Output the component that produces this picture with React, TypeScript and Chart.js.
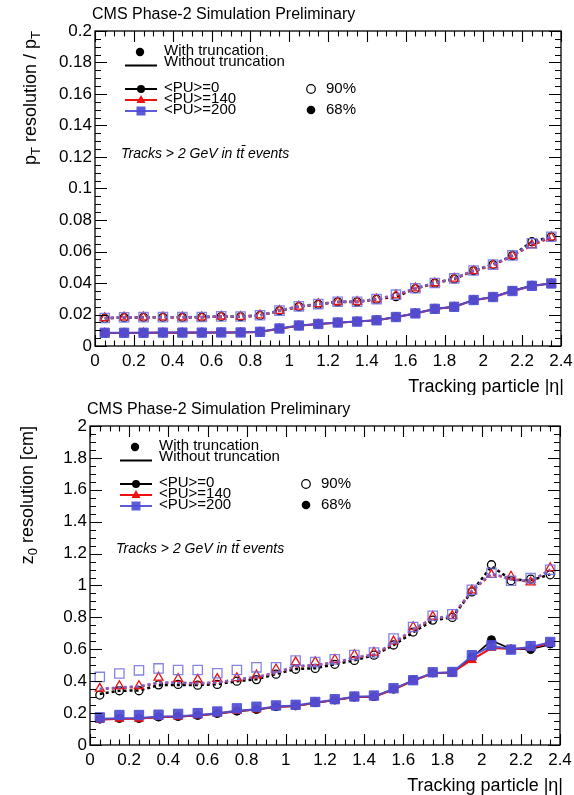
import React, { useEffect, useRef } from 'react';
import { Chart, registerables } from 'chart.js';

Chart.register(...registerables);

// ---------- data ----------
const etaBins = [0.05, 0.15, 0.25, 0.35, 0.45, 0.55, 0.65, 0.75, 0.85, 0.95, 1.05, 1.15, 1.25, 1.35, 1.45, 1.55, 1.65, 1.75, 1.85, 1.95, 2.05, 2.15, 2.25, 2.35];

const etaTickValues = [0, 0.2, 0.4, 0.6, 0.8, 1, 1.2, 1.4, 1.6, 1.8, 2, 2.2, 2.4];
const etaTickLabels = ['0', '0.2', '0.4', '0.6', '0.8', '1', '1.2', '1.4', '1.6', '1.8', '2', '2.2', '2.4'];

const ptTickValues = [0, 0.02, 0.04, 0.06, 0.08, 0.1, 0.12, 0.14, 0.16, 0.18, 0.2];
const ptTickLabels = ['0', '0.02', '0.04', '0.06', '0.08', '0.1', '0.12', '0.14', '0.16', '0.18', '0.2'];

const z0TickValues = [0, 0.2, 0.4, 0.6, 0.8, 1, 1.2, 1.4, 1.6, 1.8, 2];
const z0TickLabels = ['0', '0.2', '0.4', '0.6', '0.8', '1', '1.2', '1.4', '1.6', '1.8', '2'];

// pT resolution / pT, 68% (filled markers + solid lines)
const pt68PU0 = [0.0084, 0.0084, 0.0084, 0.0085, 0.0085, 0.0085, 0.0086, 0.0086, 0.0090, 0.0111, 0.0129, 0.0140, 0.0148, 0.0155, 0.0163, 0.0184, 0.0207, 0.0236, 0.0249, 0.0292, 0.0311, 0.0352, 0.0384, 0.0397];
const pt68PU140 = [0.0083, 0.0083, 0.0084, 0.0084, 0.0084, 0.0085, 0.0085, 0.0086, 0.0089, 0.0110, 0.0129, 0.0140, 0.0148, 0.0155, 0.0163, 0.0183, 0.0206, 0.0235, 0.0248, 0.0291, 0.0310, 0.0348, 0.0381, 0.0396];
const pt68PU200 = [0.0084, 0.0084, 0.0084, 0.0085, 0.0085, 0.0085, 0.0086, 0.0086, 0.0090, 0.0111, 0.0130, 0.0140, 0.0149, 0.0155, 0.0163, 0.0184, 0.0207, 0.0236, 0.0249, 0.0292, 0.0311, 0.0349, 0.0382, 0.0397];

// pT resolution / pT, 90% (open markers + dashed lines)
const pt90PU0 = [0.0176, 0.0181, 0.0182, 0.0182, 0.0182, 0.0183, 0.0187, 0.0186, 0.0194, 0.0224, 0.0250, 0.0265, 0.0280, 0.0280, 0.0297, 0.0313, 0.0364, 0.0399, 0.0426, 0.0478, 0.0517, 0.0574, 0.0662, 0.0693];
const pt90PU140 = [0.0177, 0.0182, 0.0182, 0.0183, 0.0182, 0.0183, 0.0188, 0.0186, 0.0195, 0.0224, 0.0251, 0.0266, 0.0280, 0.0281, 0.0297, 0.0322, 0.0366, 0.0399, 0.0428, 0.0476, 0.0513, 0.0572, 0.0641, 0.0690];
const pt90PU200 = [0.0178, 0.0182, 0.0183, 0.0183, 0.0183, 0.0184, 0.0188, 0.0187, 0.0195, 0.0225, 0.0252, 0.0266, 0.0281, 0.0281, 0.0298, 0.0326, 0.0367, 0.0400, 0.0429, 0.0479, 0.0517, 0.0575, 0.0652, 0.0694];

// z0 resolution [cm], 68% with truncation (markers)
const z068PU0 = [0.162, 0.166, 0.166, 0.175, 0.178, 0.185, 0.197, 0.212, 0.222, 0.240, 0.245, 0.265, 0.282, 0.300, 0.303, 0.350, 0.408, 0.452, 0.455, 0.550, 0.660, 0.600, 0.598, 0.633];
const z068PU140 = [0.159, 0.165, 0.165, 0.176, 0.178, 0.186, 0.198, 0.214, 0.223, 0.240, 0.246, 0.266, 0.283, 0.302, 0.302, 0.349, 0.404, 0.450, 0.455, 0.533, 0.610, 0.600, 0.610, 0.640];
const z068PU200 = [0.173, 0.188, 0.188, 0.190, 0.195, 0.200, 0.210, 0.230, 0.240, 0.248, 0.252, 0.270, 0.287, 0.304, 0.310, 0.356, 0.406, 0.456, 0.458, 0.563, 0.625, 0.598, 0.620, 0.646];

// z0 resolution [cm], 90% with truncation (markers)
const z090PU0 = [0.313, 0.340, 0.340, 0.377, 0.380, 0.375, 0.380, 0.400, 0.410, 0.444, 0.475, 0.480, 0.506, 0.530, 0.563, 0.627, 0.708, 0.783, 0.800, 0.960, 1.130, 1.030, 1.040, 1.067];
const z090PU140 = [0.354, 0.370, 0.370, 0.423, 0.415, 0.410, 0.415, 0.420, 0.437, 0.475, 0.520, 0.520, 0.535, 0.565, 0.580, 0.650, 0.740, 0.805, 0.810, 0.970, 1.067, 1.057, 1.020, 1.110];
const z090PU200 = [0.427, 0.448, 0.468, 0.480, 0.470, 0.470, 0.450, 0.470, 0.487, 0.487, 0.530, 0.520, 0.537, 0.564, 0.580, 0.668, 0.740, 0.810, 0.820, 0.973, 1.080, 1.030, 1.046, 1.099];

// z0 resolution [cm], without truncation (lines)
const z068LinePU0 = [0.160, 0.165, 0.166, 0.174, 0.177, 0.184, 0.196, 0.211, 0.221, 0.239, 0.244, 0.264, 0.281, 0.300, 0.302, 0.350, 0.405, 0.450, 0.455, 0.548, 0.655, 0.602, 0.600, 0.630];
const z068LinePU140 = [0.159, 0.164, 0.165, 0.175, 0.178, 0.185, 0.197, 0.213, 0.222, 0.240, 0.245, 0.265, 0.282, 0.301, 0.302, 0.348, 0.403, 0.450, 0.454, 0.535, 0.608, 0.602, 0.608, 0.640];
const z068LinePU200 = [0.165, 0.168, 0.170, 0.178, 0.181, 0.188, 0.199, 0.215, 0.224, 0.242, 0.247, 0.267, 0.284, 0.302, 0.305, 0.352, 0.405, 0.452, 0.456, 0.558, 0.622, 0.600, 0.615, 0.645];
const z090LinePU0 = [0.320, 0.340, 0.342, 0.375, 0.377, 0.376, 0.381, 0.400, 0.412, 0.445, 0.476, 0.481, 0.506, 0.531, 0.562, 0.626, 0.706, 0.782, 0.800, 0.962, 1.120, 1.038, 1.032, 1.070];
const z090LinePU140 = [0.350, 0.358, 0.365, 0.390, 0.390, 0.386, 0.391, 0.410, 0.425, 0.452, 0.492, 0.500, 0.517, 0.546, 0.566, 0.636, 0.722, 0.792, 0.806, 0.966, 1.072, 1.042, 1.022, 1.100];
const z090LinePU200 = [0.352, 0.362, 0.368, 0.390, 0.391, 0.387, 0.392, 0.411, 0.426, 0.454, 0.495, 0.502, 0.518, 0.548, 0.568, 0.642, 0.725, 0.795, 0.808, 0.968, 1.078, 1.036, 1.030, 1.096];

// ---------- styling ----------
const BLACK = '#000000';
const RED = '#ee1111';
const BLUE = 'rgba(78,78,215,0.92)';
const BLUE_OPEN = 'rgba(110,110,225,0.85)';
const FONT = '"Liberation Sans", Arial, Helvetica, sans-serif';

type Series = { color: string; openColor: string; style: string; radius: number };
const PU0: Series = { color: BLACK, openColor: BLACK, style: 'circle', radius: 4 };
const PU140: Series = { color: RED, openColor: RED, style: 'triangle', radius: 5.2 };
const PU200: Series = { color: BLUE, openColor: BLUE_OPEN, style: 'rect', radius: 6.6 };

function pts(vals: number[]) {
  return etaBins.map((x, i) => ({ x, y: vals[i] }));
}

function lineDS(vals: number[], s: Series, dashed: boolean, order: number, width: number) {
  return {
    data: pts(vals),
    showLine: true,
    borderColor: dashed ? s.openColor : s.color,
    borderWidth: width,
    borderDash: dashed ? [3, 3] : [],
    pointRadius: 0,
    fill: false,
    tension: 0,
    order,
  };
}

function markDS(vals: number[], s: Series, open: boolean, order: number) {
  return {
    data: pts(vals),
    showLine: false,
    pointStyle: s.style,
    pointRadius: s.radius,
    pointBackgroundColor: open ? 'rgba(0,0,0,0)' : s.color,
    pointBorderColor: open ? s.openColor : s.color,
    pointBorderWidth: open ? 1.3 : 1,
    order,
  };
}

type Panel = {
  yMin: number;
  yMax: number;
  yTicks: number[];
  yLabels: string[];
  yMinor: number;
  yTitle: { t: string; sub?: boolean }[];
  yTitleX: number;
  datasets: any[];
  padding: { left: number; right: number; top: number; bottom: number };
};

function drawCircle(ctx: CanvasRenderingContext2D, x: number, y: number, r: number, fill: boolean, color: string) {
  ctx.beginPath();
  ctx.arc(x, y, r, 0, Math.PI * 2);
  if (fill) {
    ctx.fillStyle = color;
    ctx.fill();
  } else {
    ctx.strokeStyle = color;
    ctx.lineWidth = 1.2;
    ctx.stroke();
  }
}

function rootPlugin(panel: Panel) {
  return {
    id: 'rootStyle',
    afterDraw(chart: any) {
      const { ctx, chartArea: a, scales } = chart;
      const xs = scales.x;
      const ys = scales.y;
      ctx.save();
      // frame
      ctx.strokeStyle = '#000';
      ctx.lineWidth = 1.3;
      ctx.strokeRect(a.left, a.top, a.right - a.left, a.bottom - a.top);

      // x ticks (top and bottom)
      ctx.lineWidth = 1.1;
      ctx.beginPath();
      for (let v = 0; v <= 2.4001; v += 0.05) {
        const px = Math.round(xs.getPixelForValue(v)) + 0.5;
        const major = Math.abs(v / 0.2 - Math.round(v / 0.2)) < 1e-6;
        const len = major ? 11 : 5.5;
        ctx.moveTo(px, a.bottom);
        ctx.lineTo(px, a.bottom - len);
        ctx.moveTo(px, a.top);
        ctx.lineTo(px, a.top + len);
      }
      // y ticks (left and right)
      const majorStep = panel.yTicks[1] - panel.yTicks[0];
      for (let v = panel.yMin; v <= panel.yMax + 1e-9; v += panel.yMinor) {
        const py = Math.round(ys.getPixelForValue(v)) + 0.5;
        const major = Math.abs(v / majorStep - Math.round(v / majorStep)) < 1e-6;
        const len = major ? 12 : 6;
        ctx.moveTo(a.left, py);
        ctx.lineTo(a.left + len, py);
        ctx.moveTo(a.right, py);
        ctx.lineTo(a.right - len, py);
      }
      ctx.stroke();

      // tick labels
      ctx.fillStyle = '#000';
      ctx.font = `17px ${FONT}`;
      ctx.textAlign = 'center';
      ctx.textBaseline = 'top';
      etaTickValues.forEach((v, i) => {
        ctx.fillText(etaTickLabels[i], xs.getPixelForValue(v), a.bottom + 7);
      });
      ctx.textAlign = 'right';
      ctx.textBaseline = 'middle';
      panel.yTicks.forEach((v, i) => {
        ctx.fillText(panel.yLabels[i], a.left - 3, ys.getPixelForValue(v));
      });

      // x title
      ctx.font = `18px ${FONT}`;
      ctx.textAlign = 'right';
      ctx.textBaseline = 'middle';
      ctx.fillText('Tracking particle |\u03b7|', a.right + 3, a.bottom + 41);

      // top title
      ctx.font = `16px ${FONT}`;
      ctx.textAlign = 'left';
      ctx.fillText('CMS Phase-2 Simulation Preliminary', a.left - 3, a.top - 16);

      // y title (rotated, end-aligned to top)
      ctx.save();
      ctx.translate(panel.yTitleX, a.top);
      ctx.rotate(-Math.PI / 2);
      ctx.textAlign = 'left';
      ctx.textBaseline = 'middle';
      const big = `18px ${FONT}`;
      const small = `13px ${FONT}`;
      let total = 0;
      panel.yTitle.forEach((p) => {
        ctx.font = p.sub ? small : big;
        total += ctx.measureText(p.t).width;
      });
      let cx = -total;
      panel.yTitle.forEach((p) => {
        ctx.font = p.sub ? small : big;
        ctx.fillText(p.t, cx, p.sub ? 5 : 0);
        cx += ctx.measureText(p.t).width;
      });
      ctx.restore();

      // legend
      const L = a.left;
      const T = a.top;
      ctx.font = `15px ${FONT}`;
      ctx.textAlign = 'left';
      ctx.textBaseline = 'middle';
      ctx.fillStyle = '#000';
      drawCircle(ctx, L + 45, T + 21, 4.2, true, BLACK);
      ctx.fillText('With truncation', L + 69, T + 20);
      ctx.strokeStyle = BLACK;
      ctx.lineWidth = 2;
      ctx.beginPath();
      ctx.moveTo(L + 30, T + 34.5);
      ctx.lineTo(L + 62, T + 34.5);
      ctx.stroke();
      ctx.fillText('Without truncation', L + 69, T + 31);

      const rows: [Series, string, number][] = [
        [PU0, '<PU>=0', T + 58],
        [PU140, '<PU>=140', T + 69],
        [PU200, '<PU>=200', T + 80],
      ];
      rows.forEach(([s, label, y]) => {
        ctx.strokeStyle = s.color;
        ctx.lineWidth = 2;
        ctx.beginPath();
        ctx.moveTo(L + 30, y);
        ctx.lineTo(L + 62, y);
        ctx.stroke();
        ctx.fillStyle = s.color;
        if (s.style === 'circle') {
          drawCircle(ctx, L + 46, y, 4, true, s.color);
        } else if (s.style === 'triangle') {
          ctx.beginPath();
          ctx.moveTo(L + 46, y - 5);
          ctx.lineTo(L + 50.5, y + 3);
          ctx.lineTo(L + 41.5, y + 3);
          ctx.closePath();
          ctx.fill();
        } else {
          ctx.fillRect(L + 41.5, y - 4.5, 9, 9);
        }
        ctx.fillStyle = '#000';
        ctx.fillText(label, L + 69, y - 1.5);
      });

      drawCircle(ctx, L + 216, T + 58, 4.3, false, BLACK);
      ctx.fillStyle = '#000';
      ctx.fillText('90%', L + 231, T + 57.5);
      drawCircle(ctx, L + 216, T + 79, 4.3, true, BLACK);
      ctx.fillStyle = '#000';
      ctx.fillText('68%', L + 231, T + 78.5);

      // annotation
      ctx.font = `italic 14px ${FONT}`;
      ctx.fillStyle = '#000';
      const ay = T + 123;
      let ax = L + 26;
      const s1 = 'Tracks > 2 GeV in t';
      ctx.fillText(s1, ax, ay);
      ax += ctx.measureText(s1).width;
      const tw = ctx.measureText('t').width;
      ctx.fillText('t', ax, ay);
      ctx.strokeStyle = '#000';
      ctx.lineWidth = 1;
      ctx.beginPath();
      ctx.moveTo(ax + 1.5, ay - 8.5);
      ctx.lineTo(ax + tw + 1.5, ay - 8.5);
      ctx.stroke();
      ax += tw;
      ctx.fillText(' events', ax, ay);

      ctx.restore();
    },
  };
}

function PanelChart({ panel, width, height, top }: { panel: Panel; width: number; height: number; top: number }) {
  const ref = useRef<HTMLCanvasElement | null>(null);
  useEffect(() => {
    if (!ref.current) return;
    const chart = new Chart(ref.current, {
      type: 'line',
      data: { datasets: panel.datasets },
      options: {
        responsive: false,
        animation: false,
        layout: { padding: panel.padding },
        scales: {
          x: { type: 'linear', min: 0, max: 2.4, display: false },
          y: { type: 'linear', min: panel.yMin, max: panel.yMax, display: false },
        },
        plugins: {
          legend: { display: false },
          tooltip: { enabled: false },
          title: { display: false },
        },
      },
      plugins: [rootPlugin(panel)],
    } as any);
    return () => chart.destroy();
  }, [panel]);
  return (
    <div style={{ position: 'absolute', left: 0, top, width, height }}>
      <canvas ref={ref} width={width} height={height} style={{ width, height, display: 'block' }} />
    </div>
  );
}

const topPanel: Panel = {
  yMin: 0,
  yMax: 0.2,
  yTicks: ptTickValues,
  yLabels: ptTickLabels,
  yMinor: 0.005,
  yTitle: [{ t: 'p' }, { t: 'T', sub: true }, { t: ' resolution / p' }, { t: 'T', sub: true }],
  yTitleX: 31,
  padding: { left: 95, right: 13, top: 31, bottom: 49 },
  datasets: [
    markDS(pt68PU200, PU200, false, 0),
    markDS(pt90PU200, PU200, true, 1),
    lineDS(pt68PU200, PU200, false, 2, 2),
    lineDS(pt90PU200, PU200, true, 3, 2.5),
    markDS(pt68PU140, PU140, false, 4),
    markDS(pt90PU140, PU140, true, 5),
    lineDS(pt68PU140, PU140, false, 6, 2),
    lineDS(pt90PU140, PU140, true, 7, 2.5),
    markDS(pt68PU0, PU0, false, 8),
    markDS(pt90PU0, PU0, true, 9),
    lineDS(pt68PU0, PU0, false, 10, 1.6),
    lineDS(pt90PU0, PU0, true, 11, 2.5),
  ],
};

const bottomPanel: Panel = {
  yMin: 0,
  yMax: 2,
  yTicks: z0TickValues,
  yLabels: z0TickLabels,
  yMinor: 0.05,
  yTitle: [{ t: 'z' }, { t: '0', sub: true }, { t: ' resolution [cm]' }],
  yTitleX: 28,
  padding: { left: 90, right: 14, top: 31, bottom: 50 },
  datasets: [
    markDS(z068PU200, PU200, false, 0),
    markDS(z090PU200, PU200, true, 1),
    lineDS(z068LinePU200, PU200, false, 2, 2),
    lineDS(z090LinePU200, PU200, true, 3, 2.5),
    markDS(z068PU140, PU140, false, 4),
    markDS(z090PU140, PU140, true, 5),
    lineDS(z068LinePU140, PU140, false, 6, 2),
    lineDS(z090LinePU140, PU140, true, 7, 2.5),
    markDS(z068PU0, PU0, false, 8),
    markDS(z090PU0, PU0, true, 9),
    lineDS(z068LinePU0, PU0, false, 10, 1.6),
    lineDS(z090LinePU0, PU0, true, 11, 2.5),
  ],
};

export default function App() {
  return (
    <div style={{ position: 'absolute', left: 0, top: 0, width: 574, height: 795, background: '#fff' }}>
      <PanelChart panel={topPanel} width={574} height={395} top={0} />
      <PanelChart panel={bottomPanel} width={574} height={400} top={395} />
    </div>
  );
}
